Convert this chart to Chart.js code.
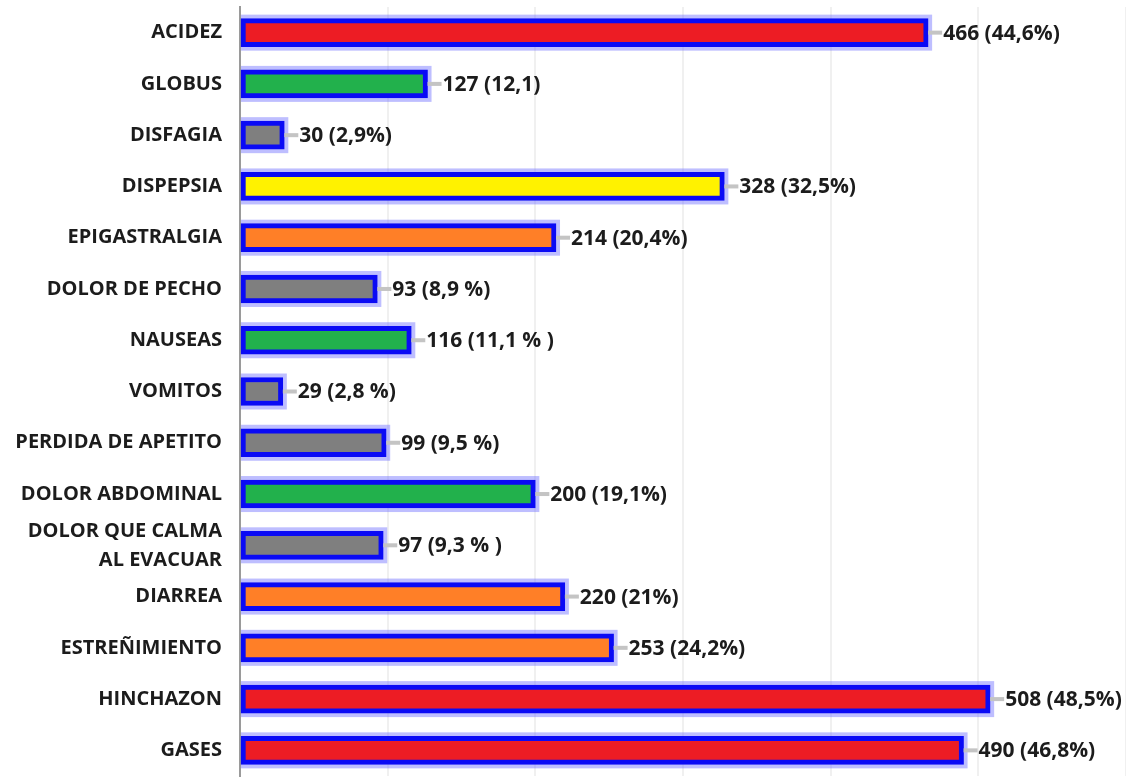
<!DOCTYPE html>
<html>
<head>
<meta charset="utf-8">
<script src="https://cdn.jsdelivr.net/npm/chart.js@4"></script>
<style>
  html, body { margin: 0; padding: 0; background: #fff; }
  #wrap { width: 1126px; height: 778px; }
</style>
</head>
<body>
<div id="wrap"><canvas id="barChart"></canvas></div>
<script>
const categories = [
  "ACIDEZ", "GLOBUS", "DISFAGIA", "DISPEPSIA", "EPIGASTRALGIA",
  "DOLOR DE PECHO", "NAUSEAS", "VOMITOS", "PERDIDA DE APETITO",
  "DOLOR ABDOMINAL", ["DOLOR QUE CALMA", "AL EVACUAR"], "DIARREA",
  "ESTREÑIMIENTO", "HINCHAZON", "GASES"
];
const counts = [466, 127, 30, 328, 214, 93, 116, 29, 99, 200, 97, 220, 253, 508, 490];
const valueLabels = [
  "466 (44,6%)", "127 (12,1)", "30 (2,9%)", "328 (32,5%)", "214 (20,4%)",
  "93 (8,9 %)", "116 (11,1 % )", "29 (2,8 %)", "99 (9,5 %)", "200 (19,1%)",
  "97 (9,3 % )", "220 (21%)", "253 (24,2%)", "508 (48,5%)", "490 (46,8%)"
];
const fillColors = [
  "#ed1c24", "#22b14c", "#7f7f7f", "#fff200", "#ff7f27",
  "#7f7f7f", "#22b14c", "#7f7f7f", "#7f7f7f", "#22b14c",
  "#7f7f7f", "#ff7f27", "#ff7f27", "#ed1c24", "#ed1c24"
];

// light blue halo behind each bar + leader line and value text
const barExtras = {
  id: "barExtras",
  beforeDatasetsDraw(chart) {
    const ctx = chart.ctx;
    const meta = chart.getDatasetMeta(0);
    ctx.save();
    ctx.fillStyle = "rgba(110, 110, 255, 0.45)";
    meta.data.forEach(bar => {
      const h = bar.height;
      ctx.fillRect(bar.base, bar.y - h / 2 - 4, bar.x - bar.base + 4, h + 8);
    });
    ctx.restore();
  },
  afterDatasetsDraw(chart) {
    const ctx = chart.ctx;
    const meta = chart.getDatasetMeta(0);
    ctx.save();
    ctx.font = "bold 21px 'Open Sans'";
    ctx.textBaseline = "middle";
    meta.data.forEach((bar, i) => {
      ctx.fillStyle = "#c4c4c4";
      ctx.fillRect(bar.x, bar.y - 2, 14, 4);
      ctx.fillStyle = "#1c1c1c";
      ctx.fillText(valueLabels[i], bar.x + 15, bar.y + 1);
    });
    ctx.restore();
  }
};

new Chart(document.getElementById("barChart"), {
  type: "bar",
  data: {
    labels: categories,
    datasets: [{
      data: counts,
      backgroundColor: fillColors,
      borderColor: "#0a0af5",
      borderWidth: 5,
      borderSkipped: false,
      barThickness: 28
    }]
  },
  options: {
    indexAxis: "y",
    responsive: true,
    maintainAspectRatio: false,
    animation: false,
    layout: { padding: { left: 8, top: 7, right: 0, bottom: 2 } },
    plugins: {
      legend: { display: false },
      tooltip: { enabled: false }
    },
    scales: {
      x: {
        min: 0,
        max: 600,
        afterFit(scale) { scale.height = 0; },
        ticks: { display: false, stepSize: 100 },
        grid: { color: "#f0f0f0", lineWidth: 2, drawTicks: false },
        border: { display: false }
      },
      y: {
        afterFit(scale) { scale.width = 232; },
        afterUpdate(scale) { scale.paddingTop = 0; scale.paddingBottom = 0; },
        grid: { display: false },
        border: { color: "#9a9a9a", width: 2 },
        ticks: {
          color: "#1c1c1c",
          padding: 10,
          autoSkip: false,
          font: { family: "Open Sans", size: 20, weight: "bold", lineHeight: 1.45 }
        }
      }
    }
  },
  plugins: [barExtras]
});
</script>
</body>
</html>
